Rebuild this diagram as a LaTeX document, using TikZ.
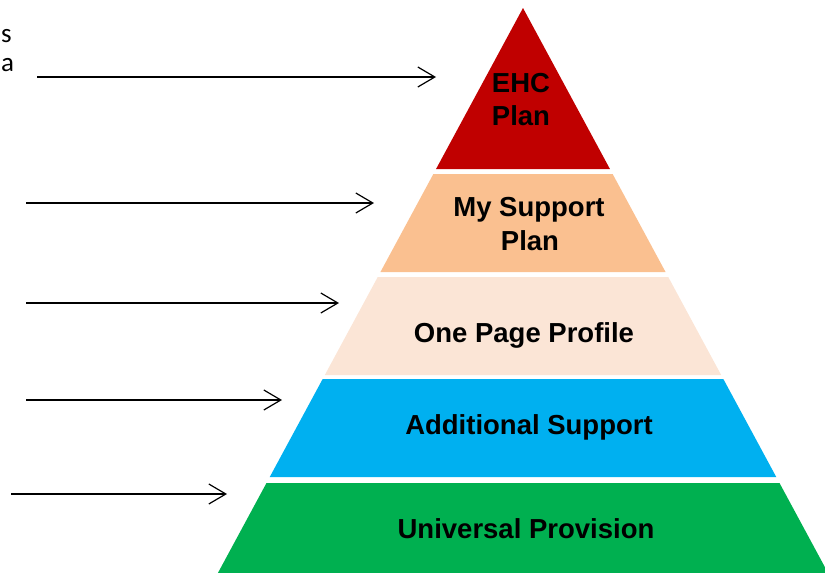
\documentclass[tikz,border=0pt]{standalone}
\usepackage{fontspec}
\setmainfont{Liberation Sans}
\newfontfamily\calfont{Carlito}
\usetikzlibrary{arrows.meta}
\definecolor{lvred}{HTML}{C00000}
\definecolor{lvorange}{HTML}{FAC090}
\definecolor{lvpeach}{HTML}{FBE5D6}
\definecolor{lvblue}{HTML}{00B0F0}
\definecolor{lvgreen}{HTML}{00B050}
\tikzset{
  lbl/.style={inner sep=0pt, anchor=base, text=black, font=\fontsize{27.5}{33}\selectfont\bfseries, align=center},
  arr/.style={line width=1.2pt, -{Straight Barb[length=17pt,width=20pt,line width=1.2pt]}},
  side/.style={inner sep=0pt, anchor=base west, font=\calfont\fontsize{27}{32}\selectfont}
}
\begin{document}
\begin{tikzpicture}[x=1pt,y=-1pt]
\useasboundingbox (0,0) rectangle (825,573);
\clip (0,0) rectangle (825,573);
% layers
\fill[lvred] (523,8) -- (609.94,169) -- (436.06,169) -- cycle;
\fill[lvorange] (433.36,174) -- (612.64,174) -- (665.56,272) -- (380.44,272) -- cycle;
\fill[lvpeach] (377.74,277) -- (668.26,277) -- (721.18,375) -- (324.82,375) -- cycle;
\fill[lvblue] (322.66,379) -- (723.34,379) -- (776.26,477) -- (269.74,477) -- cycle;
\fill[lvgreen] (266.5,483) -- (779.5,483) -- (828.1,573) -- (217.9,573) -- cycle;
% labels
\node[lbl] (ehc) at (521,92) {EHC};
\node[lbl] (ehcp) at (521,125) {Plan};
\node[lbl] (msp) at (529,216) {My Support};
\node[lbl] (mspp) at (530,250) {Plan};
\node[lbl] (opp) at (524,342) {One Page Profile};
\node[lbl] (add) at (529,434) {Additional Support};
\node[lbl] (uni) at (526,538) {Universal Provision};
% side text
\node[side] (ts) at (1,42) {s};
\node[side] (ta) at (1,71) {a};
% arrows
\coordinate (s1) at (37,77);  \coordinate (e1) at (436,77);
\coordinate (s2) at (26,203); \coordinate (e2) at (374,203);
\coordinate (s3) at (26,303); \coordinate (e3) at (339,303);
\coordinate (s4) at (26,400); \coordinate (e4) at (282,400);
\coordinate (s5) at (11,494); \coordinate (e5) at (227,494);
\draw[arr] (s1) -- (e1);
\draw[arr] (s2) -- (e2);
\draw[arr] (s3) -- (e3);
\draw[arr] (s4) -- (e4);
\draw[arr] (s5) -- (e5);
\end{tikzpicture}
\end{document}
